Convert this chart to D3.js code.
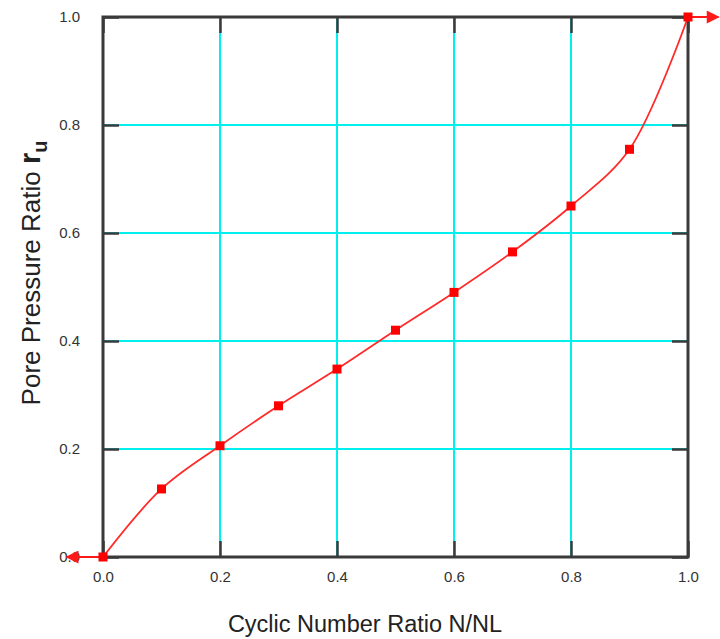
<!DOCTYPE html>
<html>
<head>
<meta charset="utf-8">
<script src="https://cdn.jsdelivr.net/npm/d3@7"></script>
<style>
  body { margin: 0; background: #fff; }
  text { font-family: "Liberation Sans", Arial, sans-serif; }
</style>
</head>
<body>
<div id="chart"></div>
<script>
// data
var ratioN = [0.0, 0.1, 0.2, 0.3, 0.4, 0.5, 0.6, 0.7, 0.8, 0.9, 1.0];
var ratioU = [0.0, 0.126, 0.206, 0.28, 0.348, 0.42, 0.49, 0.565, 0.65, 0.755, 1.0];
// arrows leaving the frame at both ends
var arrowFrom = [[0.0, 0.0], [1.0, 1.0]];
var arrowTo = [[-0.062, 0.0], [1.052, 1.0]];
var xTicks = [0.0, 0.2, 0.4, 0.6, 0.8, 1.0];
var yTicks = [0.0, 0.2, 0.4, 0.6, 0.8, 1.0];

var width = 720, height = 639;
var margin = {left: 103, right: 32, top: 17, bottom: 82};

var svg = d3.select("#chart").append("svg")
  .attr("width", width)
  .attr("height", height);

var x = d3.scaleLinear().domain([0, 1]).range([margin.left, width - margin.right]);
var y = d3.scaleLinear().domain([0, 1]).range([height - margin.bottom, margin.top]);

var defs = svg.append("defs");
defs.append("marker")
  .attr("id", "arrow")
  .attr("viewBox", "0 0 10 10")
  .attr("refX", 9).attr("refY", 5)
  .attr("markerWidth", 14).attr("markerHeight", 13)
  .attr("markerUnits", "userSpaceOnUse")
  .attr("orient", "auto")
  .append("path")
  .attr("d", "M0,0 L10,5 L0,10 Z")
  .attr("fill", "#ff1a1a");

// cyan grid
var grid = svg.append("g").attr("class", "grid");
grid.selectAll(".vg")
  .data(xTicks.slice(1, -1))
  .enter().append("line")
  .attr("x1", d => x(d)).attr("x2", d => x(d))
  .attr("y1", y(1)).attr("y2", y(0))
  .attr("stroke", "#00f0f0").attr("stroke-width", 2);
grid.selectAll(".hg")
  .data(yTicks.slice(1, -1))
  .enter().append("line")
  .attr("x1", x(0)).attr("x2", x(1))
  .attr("y1", d => y(d)).attr("y2", d => y(d))
  .attr("stroke", "#00f0f0").attr("stroke-width", 2);

// inner ticks on all four sides
var tickLen = 16;
var axB = svg.append("g").attr("transform", "translate(0," + y(0) + ")")
  .call(d3.axisBottom(x).tickValues(xTicks).tickSizeInner(-tickLen).tickSizeOuter(0).tickFormat(d3.format(".1f")).tickPadding(14));
var axT = svg.append("g").attr("transform", "translate(0," + y(1) + ")")
  .call(d3.axisTop(x).tickValues(xTicks).tickSizeInner(-tickLen).tickSizeOuter(0).tickFormat(""));
var axL = svg.append("g").attr("transform", "translate(" + x(0) + ",0)")
  .call(d3.axisLeft(y).tickValues(yTicks).tickSizeInner(-tickLen).tickSizeOuter(0).tickFormat(d3.format(".1f")).tickPadding(23));
var axR = svg.append("g").attr("transform", "translate(" + x(1) + ",0)")
  .call(d3.axisRight(y).tickValues(yTicks).tickSizeInner(-tickLen).tickSizeOuter(0).tickFormat(""));

[axB, axT, axL, axR].forEach(function(a) {
  a.select(".domain").remove();
  a.selectAll(".tick line").attr("stroke", "#3a3a3a").attr("stroke-width", 2.5);
  a.selectAll(".tick text")
    .attr("fill", "#333")
    .style("font-size", "15px")
    .style("font-family", "'Liberation Sans', Arial, sans-serif");
});

// frame
svg.append("rect")
  .attr("x", x(0)).attr("y", y(1))
  .attr("width", x(1) - x(0)).attr("height", y(0) - y(1))
  .attr("fill", "none")
  .attr("stroke", "#3a3a3a")
  .attr("stroke-width", 3);

// arrows
svg.selectAll(".arrowline")
  .data(arrowFrom)
  .enter().append("line")
  .attr("x1", d => x(d[0])).attr("y1", d => y(d[1]))
  .attr("x2", (d, i) => x(arrowTo[i][0])).attr("y2", (d, i) => y(arrowTo[i][1]))
  .attr("stroke", "#ff1a1a").attr("stroke-width", 2)
  .attr("marker-end", "url(#arrow)");

// curve
var pts = ratioN.map((d, i) => [d, ratioU[i]]);
var line = d3.line()
  .x(d => x(d[0])).y(d => y(d[1]))
  .curve(d3.curveCatmullRom.alpha(0.5));
svg.append("path")
  .datum(pts)
  .attr("d", line)
  .attr("fill", "none")
  .attr("stroke", "#ff2a2a")
  .attr("stroke-width", 1.8);

svg.selectAll(".pt")
  .data(pts)
  .enter().append("rect")
  .attr("x", d => x(d[0]) - 4.5).attr("y", d => y(d[1]) - 4.5)
  .attr("width", 9).attr("height", 9)
  .attr("fill", "#ff0000");

// axis titles
svg.append("text")
  .attr("x", 365).attr("y", 632)
  .attr("text-anchor", "middle")
  .attr("fill", "#222")
  .style("font-size", "23.5px")
  .text("Cyclic Number Ratio N/NL");

var yt = svg.append("text")
  .attr("transform", "translate(40,273) rotate(-90)")
  .attr("text-anchor", "middle")
  .attr("fill", "#222")
  .style("font-size", "26px");
yt.append("tspan").text("Pore Pressure Ratio ");
yt.append("tspan").attr("font-weight", "bold").style("font-size", "29px").text("r");
yt.append("tspan").attr("font-weight", "bold").attr("dy", 7).style("font-size", "20px").text("u");
</script>
</body>
</html>
